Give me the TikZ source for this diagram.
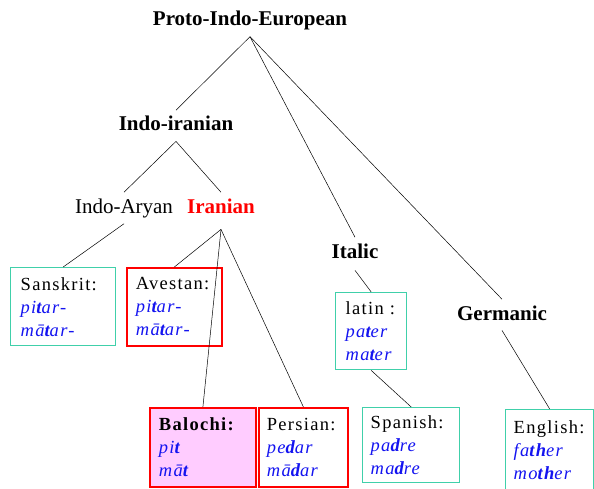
\documentclass[tikz,border=0pt]{standalone}
\usepackage{fontspec}
\setmainfont{Liberation Serif}
\newfontfamily\boxfont[LetterSpace=7]{Liberation Serif}
\usepackage{tikz}
\usetikzlibrary{positioning}
\definecolor{boxteal}{RGB}{64,208,170}
\definecolor{boxpink}{RGB}{255,204,255}
\definecolor{wordblue}{RGB}{20,20,240}
\newcommand{\form}[1]{{\color{wordblue}\itshape #1}}

\begin{document}
\begin{tikzpicture}[x=1pt, y=-1pt,
lang/.style={anchor=base, inner sep=6pt,
font=\fontsize{21}{25}\selectfont},
group/.style={lang, font=\fontsize{21}{25}\selectfont\bfseries},
wordbox/.style={draw=boxteal, line width=1.4pt, anchor=north west,
align=left, inner ysep=2pt, font=\boxfont\fontsize{18.5}{23}\selectfont},
iranbox/.style={wordbox, draw=red, line width=1.8pt},
link/.style={draw=black, line width=0.5pt} ]
\useasboundingbox (0,0) rectangle (594,489);

% family labels
\node[group] (pie) at (250,26) {Proto-Indo-European};
\node[group] (indoir) at (176,131) {Indo-iranian};
\node[lang] (indoar) at (124,213) {Indo-Aryan};
\node[group, text=red] (iran) at (221,213) {Iranian};
\node[group] (italic) at (355,258) {Italic};
\node[group] (germ) at (502,320) {Germanic};

% word boxes
\node[wordbox, inner xsep=10pt, text width=85pt, minimum height=78pt]
  (sansk) at (10,267) {Sanskrit:\\\form{pi\textbf{t}ar-}\\\form{mā\textbf{t}ar-}};
\node[iranbox, inner xsep=9pt, text width=77pt, minimum height=78pt]
  (avest) at (126,267) {Avestan:\\\form{pi\textbf{t}ar-}\\\form{mā\textbf{t}ar-}};
\node[wordbox, inner xsep=10pt, text width=51pt, minimum height=77pt]
  (latin) at (335,292) {latin :\\\form{pa\textbf{t}er}\\\form{ma\textbf{t}er}};
\node[iranbox, fill=boxpink, inner xsep=9pt, text width=88pt, minimum height=79pt]
  (baloch) at (149,407) {\textbf{Balochi:}\\\form{pi\textbf{t}}\\\form{mā\textbf{t}}};
\node[iranbox, inner xsep=8pt, text width=73pt, minimum height=79pt]
  (pers) at (258,407) {Persian:\\\form{pe\textbf{d}ar}\\\form{mā\textbf{d}ar}};
\node[wordbox, inner xsep=8pt, text width=81pt, minimum height=75pt]
  (span) at (362,407) {Spanish:\\\form{pa\textbf{d}re}\\\form{ma\textbf{d}re}};
\node[wordbox, inner xsep=8pt, text width=72pt, minimum height=80pt]
  (engl) at (505,409) {English:\\\form{fa\textbf{th}er}\\\form{mo\textbf{th}er}};

% branches
\path[link] (pie.south) -- (indoir.north);
\path[link] (pie.south) -- (italic.north);
\path[link] (pie.south) -- (germ.north);
\path[link] ([yshift=-4pt]indoir.south) -- (indoar.north);
\path[link] ([yshift=-4pt]indoir.south) -- (iran.north);
\path[link] (indoar.south) -- (sansk.north);
\path[link] ([yshift=-10pt]iran.south) -- (avest.north);
\path[link] ([yshift=-10pt]iran.south) -- (baloch.north);
\path[link] ([yshift=-10pt]iran.south) -- (pers.north);
\path[link] ([yshift=-6pt]italic.south) -- (latin.north);
\path[link] (latin.south) -- (span.north);
\path[link] ([yshift=-4pt]germ.south) -- (engl.north);
\end{tikzpicture}
\end{document}
